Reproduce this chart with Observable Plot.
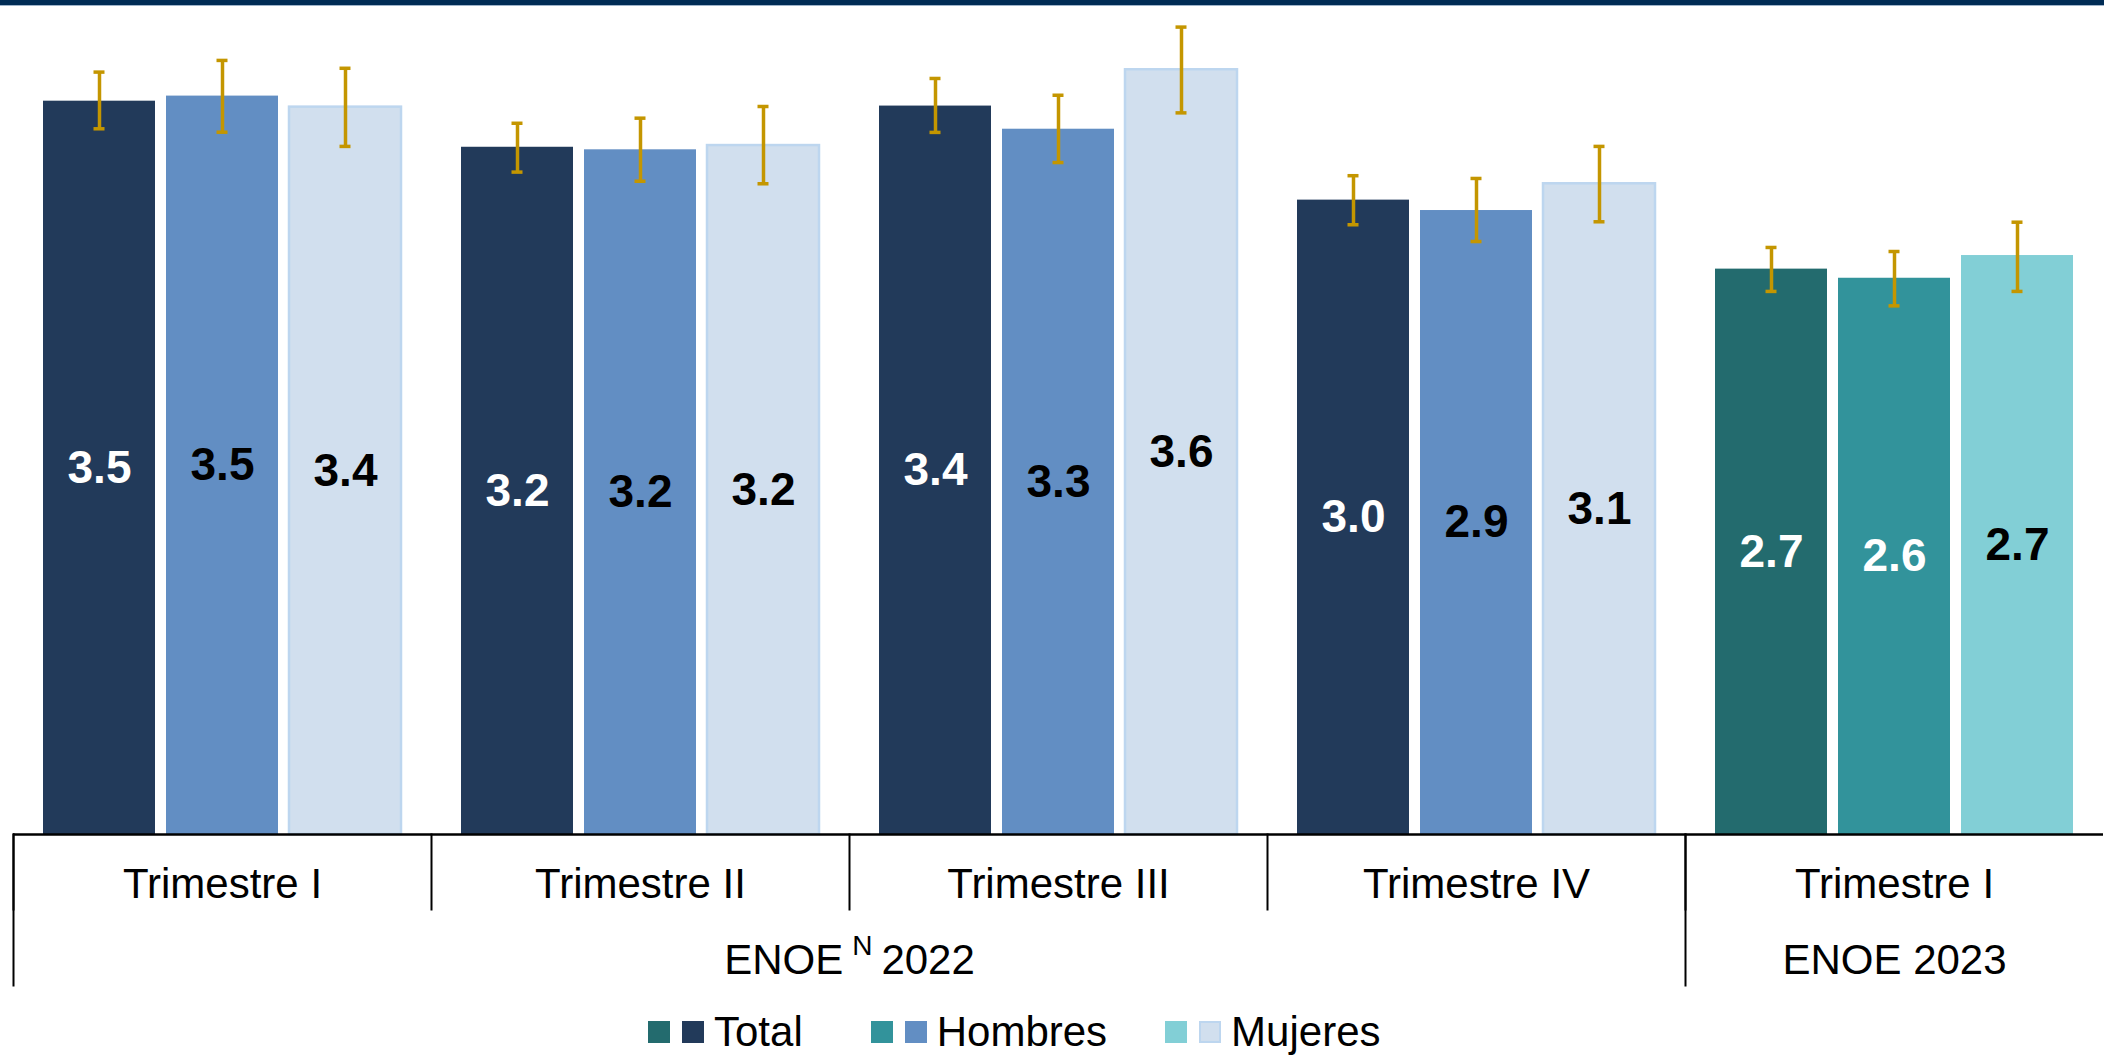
<!DOCTYPE html>
<html>
<head>
<meta charset="utf-8">
<script src="https://cdn.jsdelivr.net/npm/d3@7"></script>
<script src="https://cdn.jsdelivr.net/npm/@observablehq/plot@0.6"></script>
<style>
  html, body { margin: 0; padding: 0; background: #fff; overflow: hidden; }
  #wrap { position: relative; width: 2104px; height: 1055px; font-family: "Liberation Sans", Arial, sans-serif; }
  #band { position: absolute; left: 0; top: 0; width: 2104px; height: 5px; background: #002c55; border-bottom: 1px solid #9fb4ca; z-index: 2; }
  #chart { position: absolute; left: 0; top: 0; }
  #legend { position: absolute; left: 648px; top: 1008px; height: 48px; display: flex; align-items: center; font-size: 42px; color: #000; }
  .item { display: flex; align-items: center; margin-right: 58px; }
  .item:first-child { margin-right: 68px; }
  .sw { width: 22px; height: 22px; box-sizing: border-box; }
  .sw + .sw { margin-left: 12px; }
  .lab { margin-left: 10px; line-height: 48px; }
</style>
</head>
<body>
<div id="wrap">
  <div id="band"></div>
  <div id="chart"></div>
  <div id="legend"></div>
</div>
<script>
// ---- data ----
const groupKeys = ["2022-I", "2022-II", "2022-III", "2022-IV", "2023-I"];
const groupLabels = ["Trimestre I", "Trimestre II", "Trimestre III", "Trimestre IV", "Trimestre I"];
const groupYears = ["2022", "2022", "2022", "2022", "2023"];
const series = ["Total", "Hombres", "Mujeres"];

const totalValues   = [3.454, 3.237, 3.431, 2.988, 2.663];
const hombresValues = [3.478, 3.225, 3.322, 2.939, 2.620];
const mujeresValues = [3.426, 3.245, 3.602, 3.065, 2.727];

const totalLower   = [3.324, 3.120, 3.307, 2.872, 2.558];
const totalUpper   = [3.591, 3.350, 3.561, 3.103, 2.765];
const hombresLower = [3.308, 3.077, 3.165, 2.793, 2.490];
const hombresUpper = [3.646, 3.374, 3.482, 3.090, 2.746];
const mujeresLower = [3.241, 3.065, 3.399, 2.886, 2.558];
const mujeresUpper = [3.609, 3.429, 3.803, 3.241, 2.884];

const periodLabel2022 = "ENOE N 2022";
const periodLabel2023 = "ENOE 2023";

// ---- styles ----
const barFill = {
  "2022": {Total: "#223a5a", Hombres: "#628ec3", Mujeres: "#d1dfee"},
  "2023": {Total: "#236b6e", Hombres: "#32939b", Mujeres: "#82cfd6"}
};
const labelFill = {
  "2022": {Total: "#ffffff", Hombres: "#000000", Mujeres: "#000000"},
  "2023": {Total: "#ffffff", Hombres: "#ffffff", Mujeres: "#000000"}
};
const gold = "#c49600";

const valuesBy = {Total: totalValues, Hombres: hombresValues, Mujeres: mujeresValues};
const lowerBy = {Total: totalLower, Hombres: hombresLower, Mujeres: mujeresLower};
const upperBy = {Total: totalUpper, Hombres: hombresUpper, Mujeres: mujeresUpper};

const rows = groupKeys.flatMap((key, gi) => series.map((s) => ({
  key, year: groupYears[gi], series: s,
  value: valuesBy[s][gi], lo: lowerBy[s][gi], hi: upperBy[s][gi]
})));
const labelOf = new Map(groupKeys.map((k, i) => [k, groupLabels[i]]));

const H = 1000, MT = 6, MB = 166;
const plotH = H - MT - MB;

const chart = Plot.plot({
  width: 2104,
  height: H,
  marginTop: MT,
  marginBottom: MB,
  marginLeft: 12,
  marginRight: 0,
  style: {fontFamily: "'Liberation Sans', Arial, sans-serif", color: "#000", background: "transparent"},
  fx: {domain: groupKeys, padding: 0, axis: null},
  x: {domain: series, paddingInner: 0.0865, paddingOuter: 0.235, axis: null},
  y: {domain: [0, 3.9], axis: null},
  color: {type: "identity"},
  marks: [
    Plot.barY(rows, {fx: "key", x: "series", y: "value", fill: d => barFill[d.year][d.series]}),
    Plot.barY(rows.filter(d => d.year === "2022" && d.series === "Mujeres"),
      {fx: "key", x: "series", y: "value", fill: "none", stroke: "#bdd6ef", strokeWidth: 2.5}),
    Plot.ruleX(rows, {fx: "key", x: "series", y1: "lo", y2: "hi", stroke: gold, strokeWidth: 3.5}),
    Plot.tickY(rows, {fx: "key", x: "series", y: "lo", stroke: gold, strokeWidth: 3.5, insetLeft: 50.5, insetRight: 50.5}),
    Plot.tickY(rows, {fx: "key", x: "series", y: "hi", stroke: gold, strokeWidth: 3.5, insetLeft: 50.5, insetRight: 50.5}),
    Plot.text(rows, {fx: "key", x: "series", y: d => d.value / 2, text: d => d.value.toFixed(1),
      fill: d => labelFill[d.year][d.series], fontSize: 46, fontWeight: "bold"}),
    Plot.ruleY([0], {stroke: "#000", strokeWidth: 2.5}),
    Plot.frame({anchor: "left", stroke: "#000", strokeWidth: 2, insetTop: plotH, insetBottom: -75}),
    Plot.frame({anchor: "left", fx: () => groupKeys[0], stroke: "#000", strokeWidth: 2, insetTop: plotH, insetBottom: -151}),
    Plot.frame({anchor: "left", fx: () => groupKeys[4], stroke: "#000", strokeWidth: 2, insetTop: plotH, insetBottom: -151}),
    Plot.axisFx({anchor: "bottom", tickSize: 0, tickPadding: 34, fontSize: 42, label: null, tickFormat: k => labelOf.get(k)}),
    Plot.text([{key: groupKeys[2], t: periodLabel2022}], {fx: "key", text: "t", frameAnchor: "bottom-left",
      textAnchor: "middle", lineAnchor: "top", dy: 110, fontSize: 42, fill: "#000"}),
    Plot.text([{key: groupKeys[4], t: periodLabel2023}], {fx: "key", text: "t", frameAnchor: "bottom",
      textAnchor: "middle", lineAnchor: "top", dy: 110, fontSize: 42, fill: "#000"})
  ]
});
document.getElementById("chart").appendChild(chart);

// superscript N in "ENOE N 2022"
d3.select(chart).selectAll("text").filter(function () { return this.textContent === periodLabel2022; })
  .each(function () {
    const [a, sup, b] = periodLabel2022.split(" ");
    const t = d3.select(this);
    t.text(null);
    t.append("tspan").text(a);
    t.append("tspan").attr("dx", 9).attr("dy", -19).attr("font-size", 28).text(sup);
    t.append("tspan").attr("dx", 9).attr("dy", 19).text(b);
  });

// legend
const legend = d3.select("#legend");
series.forEach(s => {
  const item = legend.append("div").attr("class", "item");
  item.append("div").attr("class", "sw").style("background", barFill["2023"][s]);
  const sw2 = item.append("div").attr("class", "sw").style("background", barFill["2022"][s]);
  if (s === "Mujeres") sw2.style("border", "2px solid #bdd6ef");
  item.append("div").attr("class", "lab").text(s);
});
</script>
</body>
</html>
